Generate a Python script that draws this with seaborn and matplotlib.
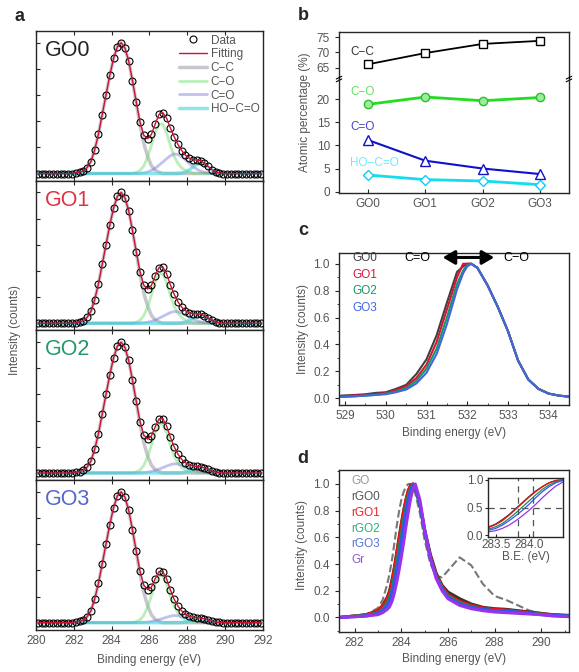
import numpy as np
import pandas as pd
import matplotlib
matplotlib.use("Agg")
import matplotlib.pyplot as plt
from matplotlib.ticker import MultipleLocator
import seaborn as sns

sns.set_theme(style="ticks")
plt.rcParams['font.family'] = ['Liberation Sans', 'DejaVu Sans']
plt.rcParams['axes.linewidth'] = 1.0
plt.rcParams['xtick.direction'] = 'in'
plt.rcParams['ytick.direction'] = 'in'
plt.rcParams['xtick.labelcolor'] = '#555555'
plt.rcParams['ytick.labelcolor'] = '#555555'
plt.rcParams['xtick.labelsize'] = 8.5
plt.rcParams['ytick.labelsize'] = 8.5

# ---------------- (a) C1s peak fitting, 0.2 eV grid ----------------
energy_a = np.round(np.arange(280.1, 291.95, 0.2), 1)
samples_a = ['GO0', 'GO1', 'GO2', 'GO3']
sample_colors_a = ['#222222', '#dd3344', '#229966', '#5566cc']

# component shapes (normalised), with first energy
cc_from = 282.1
cc_shape = [0.005, 0.01, 0.02, 0.045, 0.09, 0.18, 0.30, 0.45, 0.60, 0.75, 0.88, 0.97,
            1.0, 0.96, 0.86, 0.71, 0.54, 0.37, 0.23, 0.13, 0.06, 0.025, 0.01]
co_from = 285.3
co_shape = [0.02, 0.06, 0.15, 0.32, 0.55, 0.80, 0.97, 0.97, 0.80, 0.55, 0.34, 0.20,
            0.11, 0.06, 0.03, 0.01]
cdo_from = 285.7
cdo_shape = [0.03, 0.08, 0.16, 0.27, 0.42, 0.58, 0.75, 0.90, 1.0, 0.97, 0.86, 0.70,
             0.52, 0.35, 0.22, 0.12, 0.06, 0.03, 0.01]
hoc_from = 287.7
hoc_shape = [0.05, 0.15, 0.35, 0.62, 0.87, 1.0, 0.87, 0.62, 0.35, 0.15, 0.05]

# peak heights per sample
amp_cc = [1.0, 1.0, 1.0, 1.0]
amp_co = [0.39, 0.39, 0.385, 0.37]
amp_cdo = [0.15, 0.09, 0.07, 0.055]
amp_hoc = [0.08, 0.06, 0.04, 0.03]

# ---------------- (b) atomic percentages ----------------
samples_b = ['GO0', 'GO1', 'GO2', 'GO3']
pct_cc = [66.1, 69.8, 72.8, 73.8]
pct_co = [18.9, 20.5, 19.7, 20.4]
pct_cdo = [11.2, 6.7, 5.0, 3.8]
pct_hoc = [3.6, 2.6, 2.3, 1.5]

# ---------------- (c) O1s normalised ----------------
energy_c = [528.9, 529.25, 529.5, 529.75, 530.0, 530.25, 530.5, 530.75, 531.0, 531.25,
            531.5, 531.75, 531.9, 532.0, 532.1, 532.25, 532.5, 532.75, 533.0, 533.25,
            533.5, 533.75, 534.0, 534.25, 534.5]
o1s_go0 = [0.02, 0.025, 0.03, 0.04, 0.045, 0.07, 0.10, 0.18, 0.29, 0.47, 0.71, 0.94, 0.98,
           1.0, 1.0, 0.97, 0.84, 0.68, 0.50, 0.28, 0.14, 0.07, 0.035, 0.02, 0.012]
o1s_go1 = [0.015, 0.02, 0.025, 0.03, 0.04, 0.06, 0.09, 0.15, 0.25, 0.42, 0.66, 0.90, 1.0,
           1.0, 1.0, 0.97, 0.84, 0.68, 0.50, 0.28, 0.14, 0.07, 0.035, 0.02, 0.012]
o1s_go2 = [0.01, 0.015, 0.02, 0.025, 0.035, 0.05, 0.075, 0.13, 0.22, 0.37, 0.60, 0.85, 0.95,
           0.99, 1.0, 0.97, 0.84, 0.68, 0.50, 0.28, 0.14, 0.07, 0.035, 0.02, 0.012]
o1s_go3 = [0.01, 0.015, 0.02, 0.025, 0.03, 0.045, 0.065, 0.11, 0.19, 0.33, 0.55, 0.81, 0.93,
           0.98, 1.0, 0.97, 0.84, 0.68, 0.50, 0.28, 0.14, 0.07, 0.035, 0.02, 0.012]
names_c = ['GO0', 'GO1', 'GO2', 'GO3']
colors_c = ['#404040', '#dd1133', '#119966', '#4466dd']

# ---------------- (d) C1s normalised, reduced samples ----------------
energy_d = [281.4, 282.0, 282.5, 283.0, 283.2, 283.4, 283.5, 283.6, 283.7, 283.8, 283.9,
            284.0, 284.1, 284.2, 284.3, 284.4, 284.5, 284.6, 284.8, 285.0, 285.25, 285.5,
            285.75, 286.0, 286.5, 287.0, 287.5, 288.0, 288.5, 289.0, 289.5, 290.0, 290.5, 291.2]
c1s_go = [0.0, 0.01, 0.02, 0.07, 0.13, 0.25, 0.33, 0.43, 0.55, 0.68, 0.79, 0.88, 0.94, 0.98,
          1.0, 1.0, 0.98, 0.93, 0.78, 0.58, 0.40, 0.31, 0.30, 0.35, 0.45, 0.39, 0.25, 0.16,
          0.13, 0.09, 0.05, 0.03, 0.02, 0.01]
c1s_rgo0 = [0.0, 0.01, 0.02, 0.05, 0.09, 0.15, 0.20, 0.28, 0.37, 0.48, 0.59, 0.70, 0.80, 0.88,
            0.95, 0.99, 1.0, 0.97, 0.85, 0.66, 0.47, 0.33, 0.24, 0.19, 0.14, 0.10, 0.075,
            0.065, 0.06, 0.05, 0.04, 0.03, 0.02, 0.015]
c1s_rgo1 = [0.0, 0.01, 0.02, 0.05, 0.085, 0.14, 0.19, 0.26, 0.36, 0.47, 0.58, 0.69, 0.79, 0.88,
            0.95, 0.99, 1.0, 0.97, 0.84, 0.65, 0.45, 0.32, 0.23, 0.17, 0.12, 0.09, 0.07,
            0.06, 0.055, 0.045, 0.035, 0.025, 0.02, 0.01]
c1s_rgo2 = [0.0, 0.01, 0.015, 0.035, 0.06, 0.11, 0.15, 0.21, 0.30, 0.40, 0.51, 0.62, 0.73, 0.83,
            0.91, 0.97, 1.0, 0.97, 0.84, 0.64, 0.44, 0.31, 0.22, 0.16, 0.11, 0.08, 0.06,
            0.05, 0.045, 0.04, 0.03, 0.025, 0.015, 0.01]
c1s_rgo3 = [0.0, 0.005, 0.01, 0.03, 0.05, 0.09, 0.12, 0.18, 0.26, 0.35, 0.45, 0.56, 0.68, 0.79,
            0.88, 0.95, 0.99, 0.98, 0.85, 0.65, 0.44, 0.30, 0.21, 0.15, 0.10, 0.075, 0.06,
            0.05, 0.045, 0.04, 0.03, 0.02, 0.015, 0.01]
c1s_gr = [0.0, 0.005, 0.01, 0.02, 0.035, 0.06, 0.08, 0.12, 0.18, 0.26, 0.35, 0.45, 0.56, 0.68,
          0.79, 0.89, 0.96, 1.0, 0.88, 0.66, 0.44, 0.29, 0.20, 0.14, 0.09, 0.065, 0.05,
          0.04, 0.035, 0.03, 0.025, 0.02, 0.01, 0.005]
names_d = ['GO', 'rGO0', 'rGO1', 'rGO2', 'rGO3', 'Gr']
line_colors_d = ['#777777', '#3a3030', '#ee1111', '#228855', '#3355ee', '#9933ee']
text_colors_d = ['#999999', '#555555', '#ee2222', '#33aa77', '#5577dd', '#9955cc']
inset_vlines = [283.83, 284.05]


def place(start, shape):
    out = np.zeros(len(energy_a))
    i = int(round((start - energy_a[0]) / 0.2))
    out[i:i + len(shape)] = shape
    return out


fig = plt.figure(figsize=(5.79, 6.72), dpi=100)

# ---- panel a
a_top, a_h = 0.9539, 0.2228
comp_style = [('C\u2212C', '#9a9aa6', 0.55, 2.5),
              ('C\u2212O', '#66dd66', 0.45, 2.0),
              ('C=O', '#7777dd', 0.45, 2.0),
              ('HO\u2212C=O', '#44d4dd', 0.6, 2.5)]
for i, s in enumerate(samples_a):
    ax = fig.add_axes([0.0622, a_top - (i + 1) * a_h, 0.392, a_h])
    comps = [amp_cc[i] * place(cc_from, cc_shape),
             amp_co[i] * place(co_from, co_shape),
             amp_cdo[i] * place(cdo_from, cdo_shape),
             amp_hoc[i] * place(hoc_from, hoc_shape)]
    fit = comps[0] + comps[1] + comps[2] + comps[3]
    for (lab, col, al, lw), comp in zip(comp_style, comps):
        sns.lineplot(x=energy_a, y=comp, ax=ax, color=col, alpha=al, linewidth=lw,
                     label=lab, legend=False, zorder=2)
    sns.lineplot(x=energy_a, y=fit, ax=ax, color='black', marker='o', linestyle='none',
                 markerfacecolor='none', markeredgecolor='black', markersize=5,
                 markeredgewidth=0.8, label='Data', legend=False, zorder=3)
    sns.lineplot(x=energy_a, y=fit, ax=ax, color='#cc1133', linewidth=1.0,
                 label='Fitting', legend=False, zorder=4)
    ax.set_xlim(280, 292)
    ax.set_ylim(-0.055, 1.09)
    ax.xaxis.set_major_locator(MultipleLocator(2))
    ax.yaxis.set_major_locator(MultipleLocator(0.2))
    ax.tick_params(top=True, bottom=True, labelbottom=(i == 3), labelleft=False,
                   length=3, width=0.8)
    ax.set_xlabel('')
    ax.set_ylabel('')
    ax.text(0.04, 0.87, s, transform=ax.transAxes, fontsize=15.5,
            color=sample_colors_a[i], va='center', ha='left')
    if i == 0:
        h, l = ax.get_legend_handles_labels()
        order = ['Data', 'Fitting', 'C\u2212C', 'C\u2212O', 'C=O', 'HO\u2212C=O']
        hd = dict(zip(l, h))
        leg = ax.legend([hd[k] for k in order], order, loc='upper right', frameon=False,
                        fontsize=8.5, handlelength=2.4, handletextpad=0.3,
                        labelspacing=0.15, borderaxespad=0.1, borderpad=0.2)
        for t in leg.get_texts():
            t.set_color('#555555')

fig.text(0.026, 0.509, 'Intensity (counts)', rotation=90, ha='center', va='center',
         fontsize=8.5, color='#555555')
fig.text(0.258, 0.018, 'Binding energy (eV)', ha='center', va='center',
         fontsize=8.5, color='#555555')

# ---- panel b (broken y axis)
axb_top = fig.add_axes([0.5855, 0.8824, 0.3972, 0.0700])
axb = fig.add_axes([0.5855, 0.7128, 0.3972, 0.1696])
sns.lineplot(x=samples_b, y=pct_cc, ax=axb_top, color='black', linewidth=1.3, marker='s',
             markersize=6, markerfacecolor='white', markeredgecolor='black',
             markeredgewidth=1.0, legend=False)
sns.lineplot(x=samples_b, y=pct_co, ax=axb, color='#22dd22', linewidth=2.0, marker='o',
             markersize=6, markerfacecolor='#99ee99', markeredgecolor='#33bb33',
             markeredgewidth=1.0, legend=False)
sns.lineplot(x=samples_b, y=pct_cdo, ax=axb, color='#1111cc', linewidth=1.5, marker='^',
             markersize=6.5, markerfacecolor='white', markeredgecolor='#1111cc',
             markeredgewidth=1.0, legend=False)
sns.lineplot(x=samples_b, y=pct_hoc, ax=axb, color='#11ddee', linewidth=2.0, marker='D',
             markersize=5.5, markerfacecolor='white', markeredgecolor='#11ccee',
             markeredgewidth=1.0, legend=False)
for ax in (axb_top, axb):
    ax.set_xlim(-0.5, 3.5)
    ax.set_xlabel('')
    ax.set_ylabel('')
    ax.tick_params(length=3, width=0.8)
    ax.tick_params(axis='y', direction='out')
axb_top.set_ylim(61.3, 76.7)
axb_top.set_yticks([65, 70, 75])
axb_top.tick_params(bottom=False, labelbottom=False)
axb_top.spines['bottom'].set_visible(False)
axb.set_ylim(-0.3, 24.4)
axb.set_yticks([0, 5, 10, 15, 20])
axb.spines['top'].set_visible(False)
for x0 in (0, 1):
    for dy in (-0.012, 0.012):
        axb.plot([x0 - 0.012, x0 + 0.012], [1 + dy - 0.012, 1 + dy + 0.012],
                 transform=axb.transAxes, color='black', lw=0.8, clip_on=False)
axb_top.text(-0.31, 70.2, 'C\u2212C', fontsize=8.5, color='#333333', va='center')
axb.text(-0.31, 21.6, 'C\u2212O', fontsize=8.5, color='#66dd66', va='center')
axb.text(-0.31, 14.1, 'C=O', fontsize=8.5, color='#4444cc', va='center')
axb.text(-0.31, 6.1, 'HO\u2212C=O', fontsize=8.5, color='#66eeff', va='center')
fig.text(0.527, 0.833, 'Atomic percentage (%)', rotation=90, ha='center', va='center',
         fontsize=8.5, color='#555555')

# ---- panel c
axc = fig.add_axes([0.5855, 0.3973, 0.3972, 0.2262])
for vals, col in zip([o1s_go0, o1s_go1, o1s_go2, o1s_go3], colors_c):
    sns.lineplot(x=energy_c, y=vals, ax=axc, color=col, linewidth=1.5, legend=False)
axc.set_xlim(528.85, 534.5)
axc.set_ylim(-0.05, 1.08)
axc.xaxis.set_major_locator(MultipleLocator(1))
axc.xaxis.set_minor_locator(MultipleLocator(0.5))
axc.set_yticks([0, 0.2, 0.4, 0.6, 0.8, 1.0])
axc.set_yticklabels(['0.0', '0.2', '0.4', '0.6', '0.8', '1.0'])
axc.yaxis.set_minor_locator(MultipleLocator(0.1))
axc.tick_params(length=3, width=0.8)
axc.tick_params(which='minor', length=1.8, width=0.6)
axc.tick_params(axis='y', which='both', direction='out')
axc.set_xlabel('')
axc.set_ylabel('')
for k, (nm, col) in enumerate(zip(names_c, colors_c)):
    axc.text(529.19, 1.042 - 0.123 * k, nm, fontsize=8.5, color=col, va='center')
axc.text(530.78, 1.045, 'C=O', fontsize=9, color='black', va='center', ha='center')
axc.text(533.2, 1.045, 'C\u2212O', fontsize=9, color='black', va='center', ha='center')
axc.annotate('', xy=(531.33, 1.047), xytext=(532.73, 1.047),
             arrowprops=dict(arrowstyle='<|-|>,head_length=0.6,head_width=0.35',
                             lw=2.2, color='black'))
fig.text(0.523, 0.51, 'Intensity (counts)', rotation=90, ha='center', va='center',
         fontsize=8.5, color='#555555')
fig.text(0.784, 0.356, 'Binding energy (eV)', ha='center', va='center',
         fontsize=8.5, color='#555555')

# ---- panel d
axd = fig.add_axes([0.5855, 0.0595, 0.3972, 0.2411])
series_d = [c1s_go, c1s_rgo0, c1s_rgo1, c1s_rgo2, c1s_rgo3, c1s_gr]
for k, (vals, col) in enumerate(zip(series_d, line_colors_d)):
    if k == 0:
        sns.lineplot(x=energy_d, y=vals, ax=axd, color=col, linewidth=1.5,
                     linestyle='--', legend=False)
    else:
        sns.lineplot(x=energy_d, y=vals, ax=axd, color=col, linewidth=2.2, legend=False)
axd.set_xlim(281.33, 291.19)
axd.set_ylim(-0.11, 1.105)
axd.xaxis.set_major_locator(MultipleLocator(2))
axd.xaxis.set_minor_locator(MultipleLocator(1))
axd.set_yticks([0, 0.2, 0.4, 0.6, 0.8, 1.0])
axd.set_yticklabels(['0.0', '0.2', '0.4', '0.6', '0.8', '1.0'])
axd.yaxis.set_minor_locator(MultipleLocator(0.1))
axd.tick_params(length=3, width=0.8)
axd.tick_params(which='minor', length=1.8, width=0.6)
axd.tick_params(axis='y', which='both', direction='out')
axd.set_xlabel('')
axd.set_ylabel('')
for k, (nm, col) in enumerate(zip(names_d, text_colors_d)):
    axd.text(281.87, 1.02 - 0.118 * k, nm, fontsize=8.5, color=col, va='center')
fig.text(0.521, 0.189, 'Intensity (counts)', rotation=90, ha='center', va='center',
         fontsize=8.5, color='#555555')
fig.text(0.784, 0.019, 'Binding energy (eV)', ha='center', va='center',
         fontsize=8.5, color='#555555')

# inset
axi = fig.add_axes([0.8433, 0.2013, 0.1285, 0.0878])
for vals, col in zip(series_d[1:], line_colors_d[1:]):
    sns.lineplot(x=energy_d, y=vals, ax=axi, color=col, linewidth=0.9, legend=False)
for xv in inset_vlines:
    axi.axvline(xv, color='#555555', lw=0.9, ls=(0, (5, 4)))
axi.axhline(0.5, color='#555555', lw=0.9, ls=(0, (5, 4)))
axi.set_xlim(283.39, 284.5)
axi.set_ylim(-0.03, 1.04)
axi.set_xticks([283.5, 284.0])
axi.set_xticklabels(['283.5', '284.0'])
axi.set_yticks([0, 0.5, 1.0])
axi.set_yticklabels(['0.0', '0.5', '1.0'])
axi.tick_params(length=2, width=0.8, pad=1.5)
axi.tick_params(axis='y', direction='out')
axi.set_ylabel('')
axi.set_xlabel('B.E. (eV)', fontsize=8.5, color='#555555', labelpad=0)

# panel letters
for lab, x, y in [('a', 0.033, 0.976), ('b', 0.523, 0.977), ('c', 0.523, 0.657),
                  ('d', 0.523, 0.317)]:
    fig.text(x, y, lab, fontsize=13, fontweight='bold', ha='center', va='center')

fig.savefig('out.png', dpi=100)
